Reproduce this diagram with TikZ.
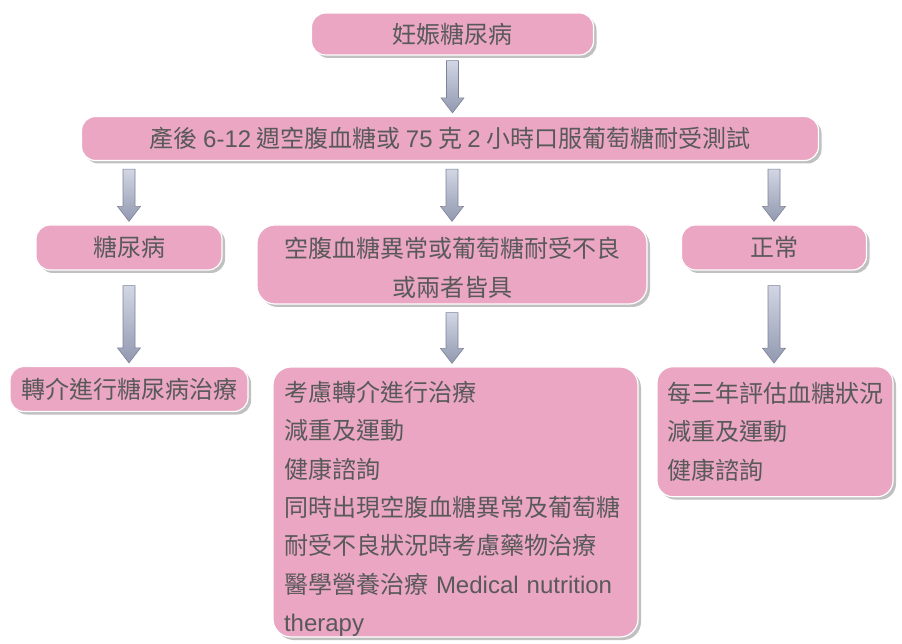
\documentclass[tikz,border=0pt]{standalone}
\usepackage{fontspec}
\setmainfont{Noto Sans CJK TC}
\newfontfamily\latinfont{Liberation Sans}
\usetikzlibrary{calc,shadows}
\definecolor{boxpink}{RGB}{234,166,195}
\definecolor{txtgray}{RGB}{89,89,89}
\definecolor{arrtop}{RGB}{210,214,228}
\definecolor{arrbot}{RGB}{146,153,176}
\definecolor{arredge}{RGB}{125,130,150}
% block arrow: [gap below source]{source}{target}
\newcommand\flowarrow[3][7pt]{%
  \path[flowarr] let \p1=#2, \p2=#3 in
    (\x2-6pt,\y1-#1) -- (\x2+6pt,\y1-#1) -- (\x2+6pt,\y2+18pt)
    -- (\x2+11.5pt,\y2+18pt) -- (\x2,\y2+3pt) -- (\x2-11.5pt,\y2+18pt)
    -- (\x2-6pt,\y2+18pt) -- cycle;}
\begin{document}
\begin{tikzpicture}[x=1pt, y=-1pt,
        box/.style = {rectangle, rounded corners=14pt,
                      fill=boxpink, draw=white, line width=1.2pt,
                      text=txtgray, inner sep=0pt,
                      drop shadow={shadow xshift=3pt, shadow yshift=-3pt,
                                   fill=black!55, opacity=0.45}},
     listbox/.style = {box, align=left, inner xsep=11pt},
     flowarr/.style = {top color=arrtop, bottom color=arrbot,
                       draw=arredge, line width=0.6pt},
              font = \fontsize{24}{38.4}\selectfont
                                ]
        \useasboundingbox (0,0) rectangle (902,644);
        % top
        \node[box, minimum width=282pt, minimum height=42pt]
            (gdm) at (452.5,34) {妊娠糖尿病};
        \node[box, minimum width=737pt, minimum height=44pt]
            (post) at (450,138.5)
            {產後 {\latinfont 6-12} 週空腹血糖或 {\latinfont 75} 克 {\latinfont 2} 小時口服葡萄糖耐受測試};
        % results
        \node[box, minimum width=186pt, minimum height=45pt]
            (dm) at (129,247.5) {糖尿病};
        \node[box, align=center, rounded corners=18pt,
              minimum width=390pt, minimum height=79pt]
            (ifg) at (452,264.5) {\rule{0pt}{27pt}空腹血糖異常或葡萄糖耐受不良\\或兩者皆具};
        \node[box, minimum width=185pt, minimum height=45pt]
            (norm) at (774,247.5) {正常};
        % follow-up
        \node[box, minimum width=238pt, minimum height=45pt]
            (refer) at (129,389) {轉介進行糖尿病治療};
        \node[listbox, rounded corners=18pt, text width=343pt, minimum height=270pt]
            (care) at (455.5,502)
            {\rule{0pt}{34pt}考慮轉介進行治療\\減重及運動\\健康諮詢\\同時出現空腹血糖異常及葡萄糖\\耐受不良狀況時考慮藥物治療\\醫學營養治療 {\latinfont Medical nutrition}\\{\latinfont therapy}};
        \node[listbox, rounded corners=16pt, inner xsep=10pt, text width=216pt,
              minimum height=130pt]
            (check) at (775,431.7)
            {每三年評估血糖狀況\\減重及運動\\健康諮詢};
        % arrows
        \flowarrow[5pt]{(gdm.south)}{(gdm.south |- post.north)}
        \flowarrow[8pt]{(post.south)}{(dm.north)}
        \flowarrow[8pt]{(post.south)}{(ifg.north)}
        \flowarrow[8pt]{(post.south)}{(norm.north)}
        \flowarrow[15pt]{(dm.south)}{(refer.north)}
        \flowarrow[8pt]{(ifg.south)}{(ifg.south |- care.north)}
        \flowarrow[15pt]{(norm.south)}{(norm.south |- check.north)}
    \end{tikzpicture}
\end{document}
